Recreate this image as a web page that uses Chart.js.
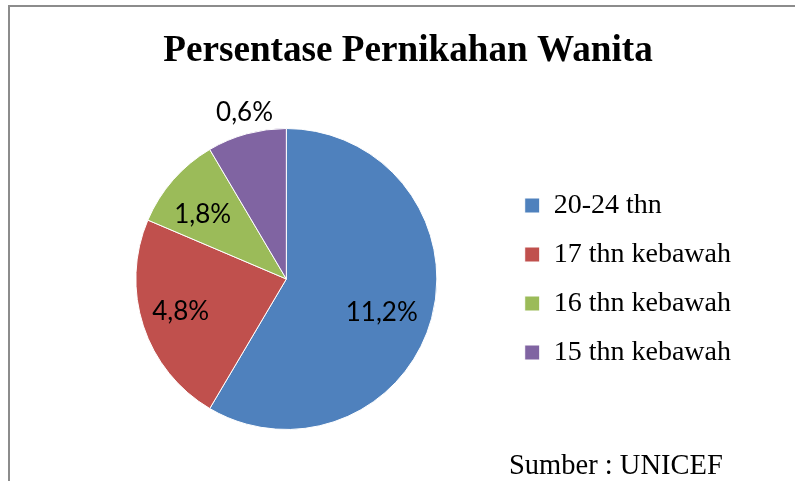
<!DOCTYPE html>
<html>
<head>
<meta charset="utf-8">
<script src="https://cdn.jsdelivr.net/npm/chart.js@4/dist/chart.umd.min.js"></script>
<style>
html,body{margin:0;padding:0;background:#fff;}
#wrap{position:relative;width:795px;height:481px;}
</style>
</head>
<body>
<div id="wrap"><canvas id="c"></canvas></div>
<script>
// Data
const categories = ["20-24 thn", "17 thn kebawah", "16 thn kebawah", "15 thn kebawah"];
const sliceShares = [58.5, 22.9, 10.1, 8.5];          // slice sizes as drawn (share of the pie)
const valueLabels = ["11,2%", "4,8%", "1,8%", "0,6%"]; // labels printed on the slices
const colors = ["#4F81BD", "#C0504D", "#9BBB59", "#8064A2"];
const titleText = "Persentase Pernikahan Wanita";
const sourceText = "Sumber : UNICEF";

// label placement relative to pie centre, in units of the radius
const labelOffsetX = [0.634, -0.702, -0.556, -0.278];
const labelOffsetY = [0.225, 0.215, -0.430, -1.103];

const decorPlugin = {
  id: 'decor',
  beforeDraw(chart) {
    const ctx = chart.ctx;
    ctx.save();
    ctx.fillStyle = '#fff';
    ctx.fillRect(0, 0, chart.width, chart.height);
    ctx.strokeStyle = '#8c8c8c';
    ctx.lineWidth = 2;
    ctx.beginPath();
    ctx.moveTo(9, chart.height + 2);
    ctx.lineTo(9, 6);
    ctx.lineTo(chart.width + 2, 6);
    ctx.stroke();
    ctx.restore();
  },
  afterDraw(chart) {
    const ctx = chart.ctx;
    ctx.save();
    ctx.fillStyle = '#000';
    ctx.textAlign = 'center';
    ctx.textBaseline = 'alphabetic';
    ctx.font = 'bold 37.2px "Liberation Serif"';
    ctx.fillText(titleText, 408, 61);
    ctx.textAlign = 'left';
    ctx.font = '28.5px "Liberation Serif"';
    ctx.fillText(sourceText, 509, 474);
    // slice labels
    const meta = chart.getDatasetMeta(0);
    ctx.font = '26px Lato';
    ctx.textAlign = 'center';
    ctx.textBaseline = 'middle';
    meta.data.forEach((arc, i) => {
      const p = arc.getProps(['x','y','outerRadius'], true);
      ctx.fillText(valueLabels[i], p.x + labelOffsetX[i] * p.outerRadius, p.y + labelOffsetY[i] * p.outerRadius);
    });
    ctx.restore();
  }
};

new Chart(document.getElementById('c'), {
  type: 'pie',
  data: {
    labels: categories,
    datasets: [{
      data: sliceShares,
      backgroundColor: colors,
      borderColor: '#ffffff',
      borderWidth: 1
    }]
  },
  options: {
    responsive: true,
    maintainAspectRatio: false,
    animation: false,
    layout: { padding: { top: 128, bottom: 51, left: 69, right: 54 } },
    plugins: {
      title: { display: false },
      tooltip: { enabled: false },
      legend: {
        display: true,
        position: 'right',
        align: 'center',
        labels: {
          boxWidth: 15,
          boxHeight: 15,
          padding: 21,
          color: '#000',
          font: { family: '"Liberation Serif"', size: 28 }
        }
      }
    }
  },
  plugins: [decorPlugin]
});
</script>
</body>
</html>
